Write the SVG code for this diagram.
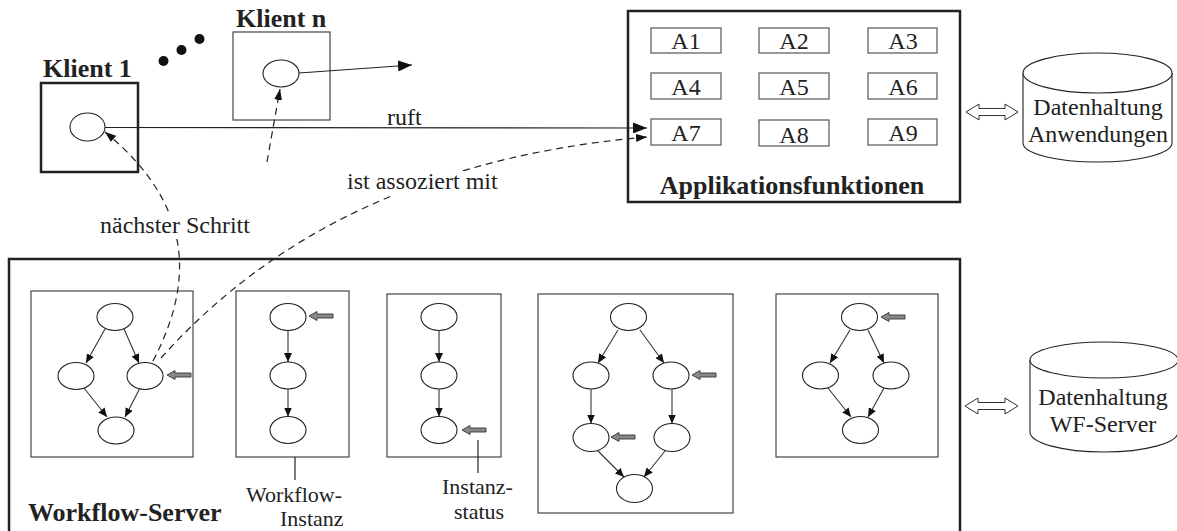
<svg xmlns="http://www.w3.org/2000/svg" xmlns:xlink="http://www.w3.org/1999/xlink" width="1177" height="531" viewBox="0 0 1177 531">
<style>
.t{font-family:"Liberation Serif","Times New Roman",serif;font-size:24px;fill:#222}
.s{font-family:"Liberation Serif","Times New Roman",serif;font-size:22px;fill:#222}
.b{font-family:"Liberation Serif","Times New Roman",serif;font-size:26px;font-weight:bold;fill:#222}
.thick{fill:#fff;stroke:#222;stroke-width:2.5}
.box{fill:#fff;stroke:#444;stroke-width:1.2}
.ab{fill:#fff;stroke:#555;stroke-width:1.2}
.el{fill:#fff;stroke:#222;stroke-width:1.1}
.ln{fill:none;stroke:#222;stroke-width:1.2}
.dash{fill:none;stroke:#222;stroke-width:1.2;stroke-dasharray:7,5}
.wf{fill:none;stroke:#333;stroke-width:1.1;marker-end:url(#ahS)}
.ga{fill:#888;stroke:#333;stroke-width:0.9}
.dbl{fill:#fff;stroke:#333;stroke-width:1}
.bg{fill:#fff}
</style>
<defs>
<marker id="ahBig" markerWidth="14" markerHeight="11" refX="14" refY="5.5" orient="auto" markerUnits="userSpaceOnUse"><path d="M0,0 L14,5.5 L0,11 Z" fill="#111"/></marker>
<marker id="ahD" markerWidth="11" markerHeight="8" refX="11" refY="4" orient="auto" markerUnits="userSpaceOnUse"><path d="M0,0 L11,4 L0,8 Z" fill="#111"/></marker>
<marker id="ahS" markerWidth="9" markerHeight="8" refX="9" refY="4" orient="auto" markerUnits="userSpaceOnUse"><path d="M0,0 L9,4 L0,8 Z" fill="#111"/></marker>
<path id="garrow" d="M0,0 L8,-4.5 L8,-2 L24,-2 L24,2 L8,2 L8,4.5 Z"/>
</defs>

<g id="klient1">
<rect class="thick" x="41" y="83" width="97" height="89"/>
<ellipse class="el" cx="87.5" cy="127" rx="17.5" ry="14"/>
<text class="b" x="43" y="77">Klient 1</text>
</g>
<g id="klientn">
<rect class="box" x="233" y="32" width="97" height="88"/>
<ellipse class="el" cx="281" cy="73.5" rx="18" ry="13.5"/>
<text class="b" x="236" y="27">Klient n</text>
</g>
<g id="dots" fill="#111">
<circle cx="163.5" cy="61" r="5"/>
<circle cx="181.5" cy="50" r="5"/>
<circle cx="199.5" cy="39" r="5"/>
</g>

<g id="applikationsfunktionen">
<rect class="thick" x="628" y="11" width="332" height="191"/>
<text class="b" x="792" y="194" text-anchor="middle">Applikationsfunktionen</text>
</g>
<g id="A1"><rect class="ab" x="651" y="28" width="70" height="25"/><text class="t" x="686" y="49" text-anchor="middle">A1</text></g>
<g id="A2"><rect class="ab" x="759" y="28" width="70" height="25"/><text class="t" x="794" y="49" text-anchor="middle">A2</text></g>
<g id="A3"><rect class="ab" x="868" y="28" width="69" height="25"/><text class="t" x="903" y="49" text-anchor="middle">A3</text></g>
<g id="A4"><rect class="ab" x="651" y="73" width="70" height="26"/><text class="t" x="686" y="95" text-anchor="middle">A4</text></g>
<g id="A5"><rect class="ab" x="759" y="73" width="70" height="26"/><text class="t" x="794" y="95" text-anchor="middle">A5</text></g>
<g id="A6"><rect class="ab" x="868" y="73" width="69" height="26"/><text class="t" x="903" y="95" text-anchor="middle">A6</text></g>
<g id="A7"><rect class="ab" x="651" y="119" width="70" height="26"/><text class="t" x="686" y="141" text-anchor="middle">A7</text></g>
<g id="A8"><rect class="ab" x="759" y="120" width="70" height="26"/><text class="t" x="794" y="143" text-anchor="middle">A8</text></g>
<g id="A9"><rect class="ab" x="868" y="119" width="69" height="26"/><text class="t" x="903" y="141" text-anchor="middle">A9</text></g>

<g id="datenhaltung-anwendungen">
<path class="el" d="M1023,73 V143 A74.5,19 0 0 0 1172,143 V73"/>
<ellipse class="el" cx="1097.5" cy="73" rx="74.5" ry="20"/>
<text class="t" x="1098" y="115" text-anchor="middle">Datenhaltung</text>
<text class="t" x="1098" y="142" text-anchor="middle">Anwendungen</text>
</g>
<g id="dbl-app"><path class="dbl" d="M966,112 L979,104 L979,108.5 L1005,108.5 L1005,104 L1018,112 L1005,120 L1005,115.5 L979,115.5 L979,120 Z"/></g>

<g id="workflow-server">
<rect class="thick" x="9" y="259" width="951" height="300"/>
<text class="b" x="28" y="521">Workflow-Server</text>
</g>

<g id="wf1">
<rect class="box" x="31" y="291" width="162" height="166"/>
<ellipse class="el" cx="115" cy="317" rx="18" ry="13.5"/>
<ellipse class="el" cx="76" cy="376" rx="18" ry="13.5"/>
<ellipse class="el" cx="145" cy="376" rx="18" ry="13.5"/>
<ellipse class="el" cx="116" cy="430.5" rx="18" ry="13.5"/>
<path class="wf" d="M105,329 L86,363"/>
<path class="wf" d="M124,329 L139,363"/>
<path class="wf" d="M84,388 L107,417"/>
<path class="wf" d="M140,388 L125,417"/>
<use href="#garrow" xlink:href="#garrow" class="ga" x="167" y="375"/>
</g>

<g id="wf2">
<rect class="box" x="236" y="291" width="113" height="166"/>
<ellipse class="el" cx="288" cy="317" rx="18" ry="13.5"/>
<ellipse class="el" cx="288" cy="375.5" rx="18" ry="13.5"/>
<ellipse class="el" cx="288" cy="430" rx="18" ry="13.5"/>
<path class="wf" d="M288,330.5 V362"/>
<path class="wf" d="M288,389 V416.5"/>
<use href="#garrow" xlink:href="#garrow" class="ga" x="309" y="316"/>
<path class="ln" d="M295,457 V480"/>
<text class="s" x="246" y="501.5">Workflow-</text>
<text class="s" x="280" y="526">Instanz</text>
</g>

<g id="wf3">
<rect class="box" x="387" y="294" width="114" height="163"/>
<ellipse class="el" cx="439" cy="317" rx="18" ry="13.5"/>
<ellipse class="el" cx="439" cy="375.5" rx="18" ry="13.5"/>
<ellipse class="el" cx="439" cy="430" rx="18" ry="13.5"/>
<path class="wf" d="M439,330.5 V362"/>
<path class="wf" d="M439,389 V416.5"/>
<use href="#garrow" xlink:href="#garrow" class="ga" x="462" y="430"/>
<path class="ln" d="M478,440 V473"/>
<text class="s" x="442" y="494">Instanz-</text>
<text class="s" x="454" y="518.5">status</text>
</g>

<g id="wf4">
<rect class="box" x="538" y="294" width="195" height="219"/>
<ellipse class="el" cx="628.5" cy="317" rx="18" ry="13.5"/>
<ellipse class="el" cx="591" cy="375.5" rx="18" ry="13.5"/>
<ellipse class="el" cx="671" cy="375.5" rx="18" ry="13.5"/>
<ellipse class="el" cx="591" cy="437.5" rx="18" ry="14"/>
<ellipse class="el" cx="672" cy="437.5" rx="18" ry="14"/>
<ellipse class="el" cx="634.5" cy="488.5" rx="18" ry="14"/>
<path class="wf" d="M618,330 L598,363"/>
<path class="wf" d="M640,330 L664,363"/>
<path class="wf" d="M591,389 V423.5"/>
<path class="wf" d="M672,389 V423.5"/>
<path class="wf" d="M598,451 L624,477"/>
<path class="wf" d="M665,451 L644,477"/>
<use href="#garrow" xlink:href="#garrow" class="ga" x="692" y="375"/>
<use href="#garrow" xlink:href="#garrow" class="ga" x="611" y="437"/>
</g>

<g id="wf5">
<rect class="box" x="776" y="294" width="162" height="163"/>
<ellipse class="el" cx="859.5" cy="317" rx="18" ry="13.5"/>
<ellipse class="el" cx="820.5" cy="375.5" rx="18" ry="13.5"/>
<ellipse class="el" cx="891" cy="375.5" rx="18" ry="13.5"/>
<ellipse class="el" cx="860.5" cy="430" rx="18" ry="13.5"/>
<path class="wf" d="M850,330 L830,363"/>
<path class="wf" d="M868,330 L884,363"/>
<path class="wf" d="M828,388 L851,417"/>
<path class="wf" d="M884,388 L868,417"/>
<use href="#garrow" xlink:href="#garrow" class="ga" x="881" y="317"/>
</g>

<g id="datenhaltung-wf">
<path class="el" d="M1030,360 V432 A74,20 0 0 0 1178,432 V360"/>
<ellipse class="el" cx="1104" cy="360" rx="74" ry="18"/>
<text class="t" x="1103" y="405" text-anchor="middle">Datenhaltung</text>
<text class="t" x="1103" y="432" text-anchor="middle">WF-Server</text>
</g>
<g id="dbl-wf"><path class="dbl" d="M965,406 L978,398 L978,402.5 L1005,402.5 L1005,398 L1018,406 L1005,414 L1005,409.5 L978,409.5 L978,414 Z"/></g>

<g id="connectors">
<path class="ln" d="M105,127.5 L647,128" marker-end="url(#ahBig)"/>
<path class="ln" d="M299,73 L412,65" marker-end="url(#ahBig)"/>
<path class="dash" d="M267,162 L280,89" marker-end="url(#ahD)"/>
<path class="dash" d="M153,361 C190,290 200,210 105,132" marker-end="url(#ahD)"/>
<path class="dash" d="M161,358 C240,270 380,160 647,137" marker-end="url(#ahD)"/>
</g>

<g id="labels">
<text class="t" x="387" y="125">ruft</text>
<rect class="bg" x="344" y="171" width="154" height="24"/>
<text class="t" x="347" y="189">ist assoziert mit</text>
<rect class="bg" x="98" y="214" width="154" height="25"/>
<text class="t" x="100" y="233">nächster Schritt</text>
</g>
</svg>
